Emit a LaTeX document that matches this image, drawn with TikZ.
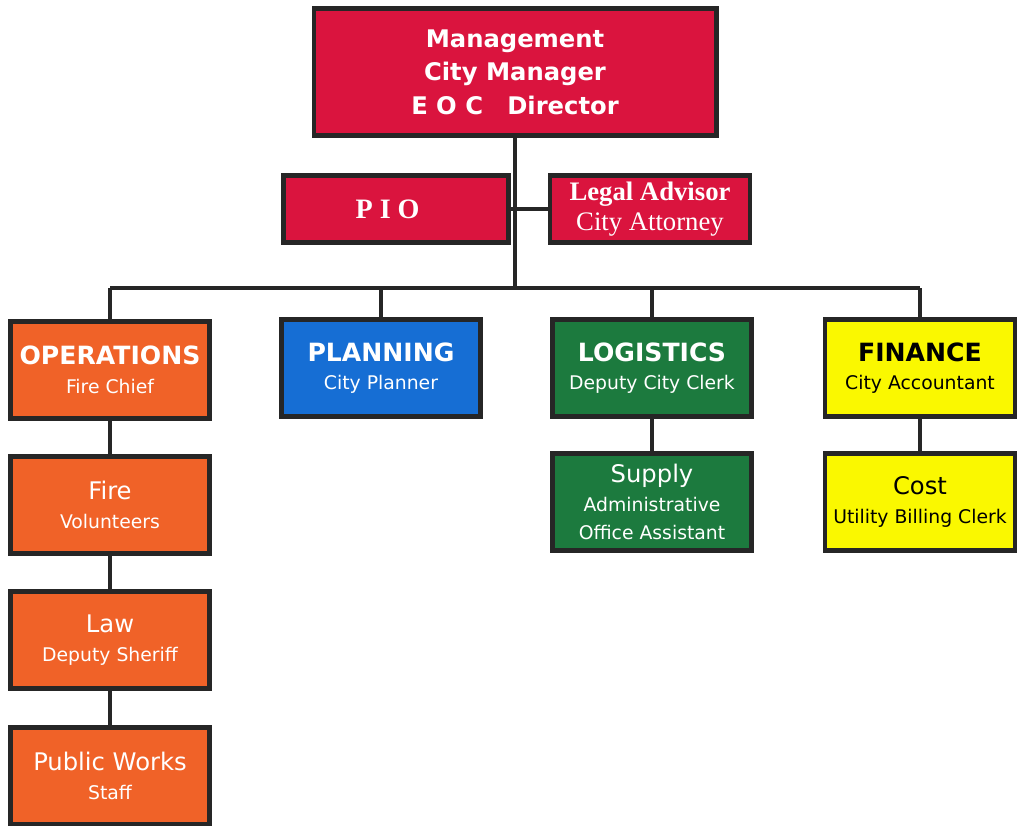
\documentclass[tikz,border=0pt]{standalone}
\usepackage{fontspec}
\setmainfont{DejaVu Sans}
\newfontfamily\pioserif{Liberation Serif}
\usetikzlibrary{positioning}
\usepackage{xcolor}
\definecolor{mgmtred}{RGB}{218,20,62}
\definecolor{opsorange}{RGB}{240,98,40}
\definecolor{planblue}{RGB}{22,110,212}
\definecolor{logigreen}{RGB}{28,122,62}
\definecolor{finyellow}{RGB}{250,248,0}
\newcommand{\boxhd}[1]{{\fontsize{14.3}{16}\selectfont\bfseries #1}}
\newcommand{\boxlow}[1]{{\fontsize{13.8}{16}\selectfont #1}}

\begin{document}
\begin{tikzpicture}[
    x=.02cm,y=-.02cm,
    box/.style={draw=black!85,line width=2.6pt,align=center,inner sep=0pt,text=white,
      font=\fontsize{10.7}{16.2}\selectfont},
    lvl/.style={box,minimum width=3.98cm,minimum height=1.95cm},
    ln/.style={line width=2.2pt,black!85}
  ]
    \useasboundingbox (0,0) rectangle (1017,825);
    \node[box,fill=mgmtred,minimum width=8.05cm,minimum height=2.55cm,
      font=\fontsize{13.8}{19}\selectfont\bfseries] (mgmt) at (515,72) {Management\\City Manager\\E O C\quad Director};
    \node[box,fill=mgmtred,minimum width=4.5cm,minimum height=1.35cm,
      font=\pioserif\bfseries\fontsize{16}{18}\selectfont] (pio) at (396,209) {P I O\hspace{.6em}};
    \node[box,fill=mgmtred,minimum width=4.0cm,minimum height=1.35cm,
      font=\pioserif\fontsize{15.2}{17.5}\selectfont] (legal) at (650,209) {\textbf{Legal Advisor}\\City Attorney};

    \node[lvl,fill=opsorange] (ops) at (110,370) {\boxhd{OPERATIONS}\\Fire Chief};
    \node[lvl,fill=planblue] (plan) at (381,368) {\boxhd{PLANNING}\\City Planner};
    \node[lvl,fill=logigreen] (logi) at (652,368) {\boxhd{LOGISTICS}\\Deputy City Clerk};
    \node[lvl,fill=finyellow,text=black,minimum width=3.8cm] (fin) at (920,368) {\boxhd{FINANCE}\\City Accountant};

    \node[lvl,fill=opsorange] (fire) at (110,505) {\boxlow{Fire}\\Volunteers};
    \node[lvl,fill=opsorange] (law) at (110,640) {\boxlow{Law}\\Deputy Sheriff};
    \node[lvl,fill=opsorange] (works) at (110,776) {\boxlow{Public Works}\\Staff};
    \node[lvl,fill=logigreen] (supply) at (652,502) {\boxlow{Supply}\\Administrative\\Office Assistant};
    \node[lvl,fill=finyellow,text=black,minimum width=3.8cm] (cost) at (920,502) {\boxlow{Cost}\\Utility Billing Clerk};

    % connectors
    \coordinate (hub) at (515,288);
    \draw[ln] (mgmt) -- (hub);
    \draw[ln] (pio) -- (legal);
    \draw[ln] (ops |- hub) -- (fin |- hub);
    \foreach \n in {ops,plan,logi,fin} \draw[ln] (\n) -- (\n |- hub);
    \draw[ln] (ops) -- (fire) (fire) -- (law) (law) -- (works);
    \draw[ln] (logi) -- (supply);
    \draw[ln] (fin) -- (cost);
\end{tikzpicture}
\end{document}
